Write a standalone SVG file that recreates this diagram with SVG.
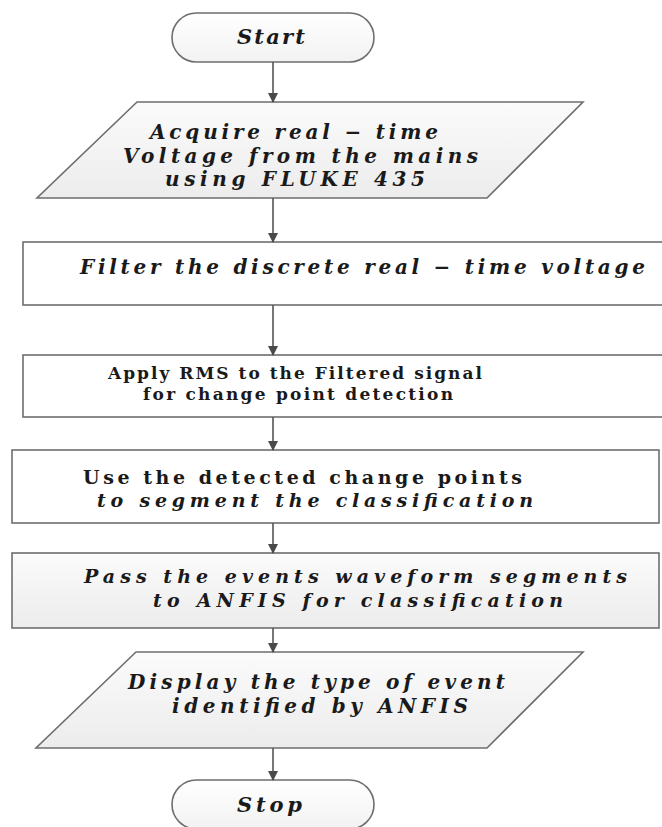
<svg xmlns="http://www.w3.org/2000/svg" width="662" height="827" viewBox="0 0 662 827">
<style>
.shape{stroke:#6e6e6e;stroke-width:1.6}
.white{fill:#ffffff}
.lg{fill:url(#lg)}
.term{fill:url(#tg)}
.t{font-family:"DejaVu Serif","Liberation Serif",serif;fill:#1a1a1a;text-anchor:start;font-weight:bold}
.i{font-style:italic}
.conn line{stroke:#555555;stroke-width:1.6}
</style>
<defs>
<linearGradient id="lg" x1="0" y1="0" x2="0" y2="1">
<stop offset="0" stop-color="#fbfbfb"/>
<stop offset="1" stop-color="#ececec"/>
</linearGradient>
<linearGradient id="tg" x1="0" y1="0" x2="0" y2="1">
<stop offset="0" stop-color="#ffffff"/>
<stop offset="1" stop-color="#f2f2f2"/>
</linearGradient>
<marker id="arr" markerWidth="10" markerHeight="10" refX="9" refY="5" orient="auto" markerUnits="userSpaceOnUse">
<path d="M0,0 L10,5 L0,10 z" fill="#4a4a4a"/>
</marker>
</defs>
<rect width="662" height="827" fill="#ffffff"/>

<g id="start">
<rect class="shape term" x="172" y="13" width="202" height="49" rx="24.5" ry="24.5"/>
<text class="t i" x="237" y="44" font-size="21" textLength="68" lengthAdjust="spacing">Start</text>
</g>

<g id="acquire">
<polygon class="shape lg" points="137,102 583,102 487,198 37,198"/>
<text class="t i" x="150" y="139" font-size="20" textLength="288" lengthAdjust="spacing">Acquire real − time</text>
<text class="t i" x="123" y="163" font-size="20" textLength="355" lengthAdjust="spacing">Voltage from the mains</text>
<text class="t i" x="165" y="186" font-size="20" textLength="260" lengthAdjust="spacing">using FLUKE 435</text>
</g>

<g id="filter">
<rect class="shape white" x="23" y="242" width="660" height="63"/>
<text class="t i" x="80" y="274" font-size="20" textLength="565" lengthAdjust="spacing">Filter the discrete real −  time voltage</text>
</g>

<g id="rms">
<rect class="shape white" x="23" y="355" width="660" height="62"/>
<text class="t" x="108" y="379" font-size="17" textLength="374" lengthAdjust="spacing">Apply RMS to the Filtered signal</text>
<text class="t" x="143" y="400" font-size="17" textLength="310" lengthAdjust="spacing">for change point detection</text>
</g>

<g id="segment">
<rect class="shape white" x="12" y="450" width="647" height="73"/>
<text class="t" x="83" y="484" font-size="19" textLength="439" lengthAdjust="spacing">Use the detected change points</text>
<text class="t i" x="97" y="507" font-size="19" textLength="436" lengthAdjust="spacing">to segment the classification</text>
</g>

<g id="pass">
<rect class="shape lg" x="12" y="553" width="647" height="75"/>
<text class="t i" x="84" y="583" font-size="19" textLength="543" lengthAdjust="spacing">Pass the events waveform segments</text>
<text class="t i" x="153" y="607" font-size="19" textLength="410" lengthAdjust="spacing">to ANFIS for classification</text>
</g>

<g id="display">
<polygon class="shape lg" points="136,652 583,652 487,748 36,748"/>
<text class="t i" x="128" y="689" font-size="20" textLength="377" lengthAdjust="spacing">Display the type of event</text>
<text class="t i" x="172" y="713" font-size="20" textLength="296" lengthAdjust="spacing">identified by ANFIS</text>
</g>

<g id="stop">
<rect class="shape term" x="172" y="780" width="202" height="49" rx="24.5" ry="24.5"/>
<text class="t i" x="237" y="812" font-size="21" textLength="65" lengthAdjust="spacing">Stop</text>
</g>

<g id="connectors" class="conn">
<line x1="273" y1="62" x2="273" y2="102" marker-end="url(#arr)"/>
<line x1="273" y1="198" x2="273" y2="242" marker-end="url(#arr)"/>
<line x1="273" y1="305" x2="273" y2="355" marker-end="url(#arr)"/>
<line x1="273" y1="417" x2="273" y2="450" marker-end="url(#arr)"/>
<line x1="273" y1="523" x2="273" y2="553" marker-end="url(#arr)"/>
<line x1="273" y1="628" x2="273" y2="652" marker-end="url(#arr)"/>
<line x1="273" y1="748" x2="273" y2="780" marker-end="url(#arr)"/>
</g>
</svg>
